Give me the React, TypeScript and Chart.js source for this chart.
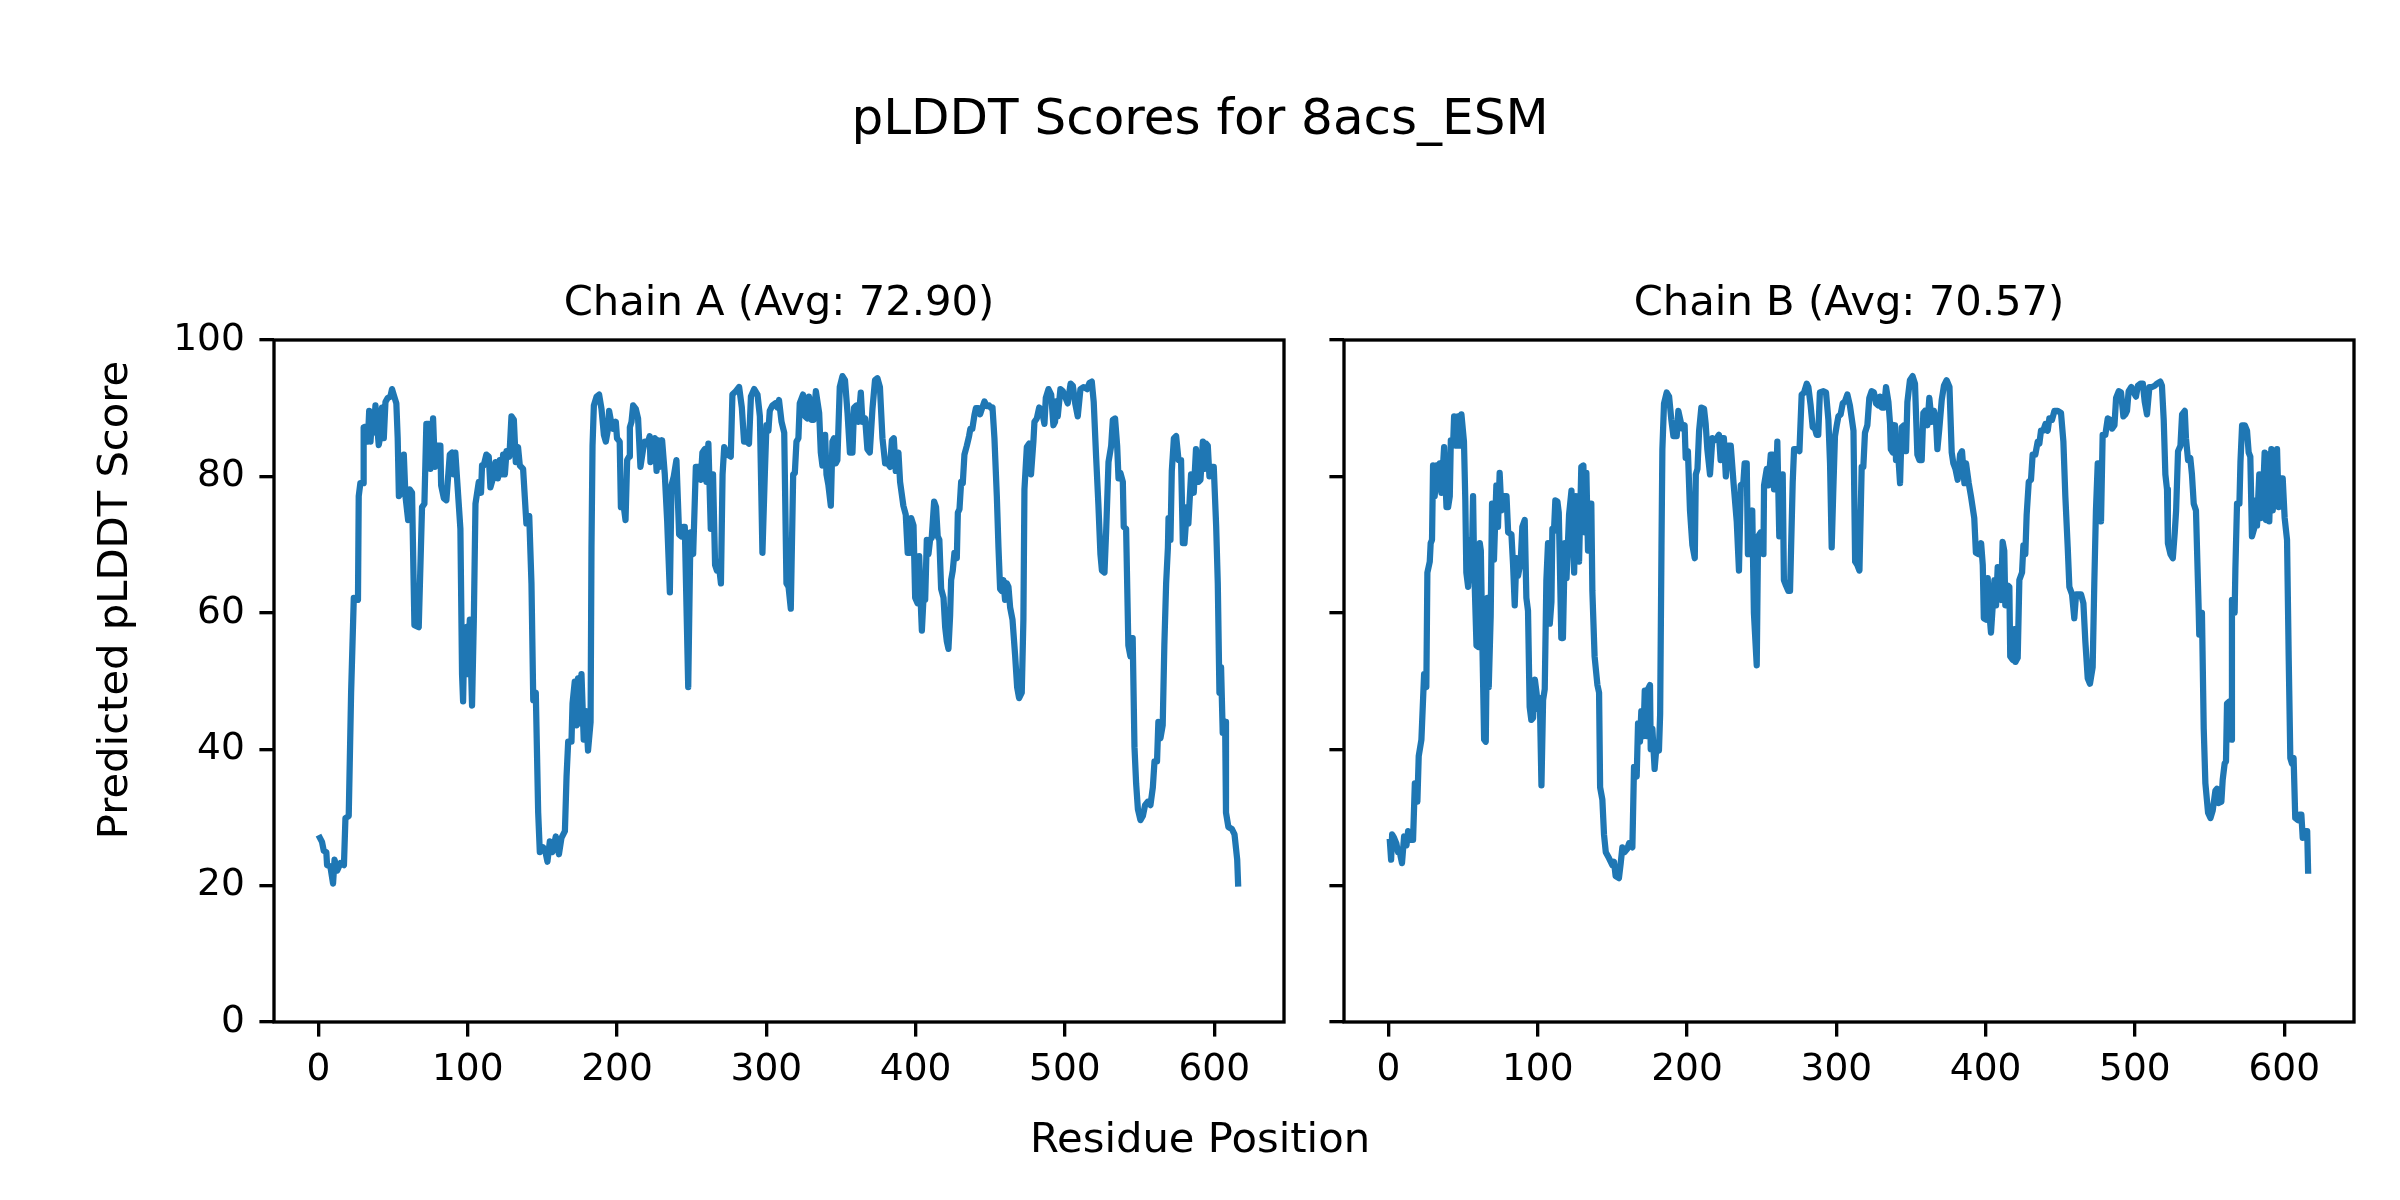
import { useEffect, useRef } from 'react';
import { Chart, registerables } from 'chart.js';

Chart.register(...registerables);

// ---------------- data ----------------
const chainAResidues = [
  1, 2.4, 3.6, 5.3, 5.8, 8, 9.8, 10.8, 12.6, 14.8, 17.1, 18.1, 20.3, 21.9, 23.7, 26.5, 27, 28.1, 29.9, 30.3,
  31.4, 33.1, 34, 34.9, 36, 37.1, 38.2, 40.4, 41.5, 42.6, 43.8, 44.9, 46.4, 48.2, 49.3, 50.4, 52.2, 53.1, 53.9, 55.3,
  57.2, 58.3, 60.1, 61.2, 62.7, 64.3, 67.2, 69.4, 71, 72.3, 73.9, 75, 76.8, 78, 79.5, 81.7, 82.2, 84, 85.7, 88,
  89.5, 90.6, 91.7, 95.1, 96.2, 96.9, 97.8, 99.2, 100.1, 101.4, 102.9, 104.1, 105.2, 107.4, 108.9, 109.6, 110.7, 112.5, 114.1, 115.2,
  116.9,
  118.6, 120.2, 121.5, 123, 123.7, 124.9, 126, 127.9, 129.3, 130.9, 132.2, 133.7, 134.9, 137.1, 139.3, 141.2, 142.7, 143.9, 145.6, 147.2,
  148.3, 150.5, 152.1, 153.4, 155, 156.7, 159, 161.1, 162.8, 165.1, 166.2, 167.3, 169.5, 170.2, 171.7, 172.8, 173.9, 174.6, 176.2, 177.7,
  179.1, 180.6, 182.3, 182.9, 183.6, 184.5, 186.3, 188, 189.6, 191.2, 192.5, 194, 194.7, 196.3, 197.4, 199.2, 200, 201.8, 202.6, 204.1,
  205.7, 206.8, 208.1, 208.6, 209.7, 210.8, 212.6, 214.1, 215.7, 217.5, 218.6, 220.8, 221.9, 222.4, 223.7, 225.4, 226.5, 227.6, 228.7, 230.2,
  232, 233.6, 235.4, 236.5, 238, 239.8, 241.6, 243.1, 244.2, 245.4, 247.7, 249.2, 251, 252.8,
  254.6, 256.1, 257.2, 258.8, 259.9, 261.2, 262.8, 264.3, 265.7, 266.9, 268, 269.6, 270.7, 271.8, 274, 276.2, 277.3, 279.6, 281.8, 283.6,
  285.1, 286.9, 288.4, 289.7, 291.9, 294.1, 295.7, 297.4, 299, 300.1, 301.4, 302.3, 304.1, 305.9, 307.4, 308.5, 310.2, 312, 313.5, 314.9,
  316.4, 318, 319.1, 320.2, 321.5, 322.4, 324.6, 326, 327.5, 328.6, 330.4, 331.6, 333.2, 335.4, 336.5, 337.6, 339.4, 340.3, 341.6, 343.2,
  344.3, 345.4, 346.5, 347.6, 349.2, 351, 352.7, 354.4, 356, 357.7, 358.8, 360.4, 361.7, 363.3, 364.4, 366.2, 367.7, 369.3, 371.1, 372.8,
  374.4, 376.1, 377.8,
  379.6, 381.4, 382.9, 384.1, 385.4, 386.7, 388.5, 389.6, 391.8, 393.4, 394.7, 396.4, 397, 398.6, 399.7, 401.3, 402.4, 403.7, 404.2, 405.3,
  406.4, 407.5, 408.6, 409.7, 410.8, 412.4, 413.7, 414.8, 415.9, 417.1, 418.7, 419.8, 420.9, 422, 423.1, 423.8, 424.9, 426, 427.6, 428.3,
  429.4, 430.5, 431.6, 432.7, 434.3, 435.8, 436.7, 438, 439.5, 440.4, 442.1, 443.2, 444.4, 446.1, 447.7, 449.2, 450.6, 451.5, 452.8, 454.4,
  455.5, 456.6, 457.7, 458.8, 459.9, 461.1, 462.2, 463.3, 464.9, 466.7, 468, 469.3, 471.1, 472.2, 472.9, 474.5, 476, 477.3, 478.9, 479.6,
  481.2, 482.8, 484.6, 486.3, 487.2, 489, 490.8, 492.3, 493.4,
  494.1, 495.2, 497, 498.6, 500.1, 501.9, 503.8, 505.3, 506.9, 508.6, 510.4, 512.7, 514.9, 516.4, 518, 519.3, 520.9, 522.4, 523.8, 524.8,
  526.5, 527.6, 529.2, 531, 532.1, 533.6, 535, 535.9, 537.2, 538.8, 539.4, 541, 542.5, 543.9, 545.4, 546.6, 547.7, 548.9, 550.6, 552.2,
  553.7, 555.5, 557.3, 558.9, 560, 561.7, 562.6, 564, 565.5, 566.6, 567.8, 569, 569.4, 570.7, 571.6, 573, 574.5, 576.1, 577.8, 579,
  580.1, 581.8, 582.7, 584.5, 586.3, 587.8, 589.5, 590.8, 592.4, 593.5, 594.6, 595.7, 596.8, 597.9, 599.7, 601.3, 602.4, 603.5, 604.6, 605.7,
  607.3, 607.9, 609.5, 611.8, 613.6, 615.4, 616,
];
const chainAScores = [
  27.0, 26.4, 25.1, 24.9, 23.0, 22.8, 20.3, 23.8, 22.2, 23.3, 23.0, 29.9, 30.2, 48.3, 62.2, 61.9, 77.1, 79, 79, 87.2,
  87.3, 85.1, 89.6, 85.1, 88.8, 86.4, 90.4, 84.6, 85.9, 90.1, 85.6, 90.9, 91.5, 91.7, 92.8, 92, 90.7, 85.6, 77.1, 77.5,
  83.2, 77.1, 73.6, 78.1, 77.6, 58.2, 57.9, 75.5, 76, 87.7, 87.7, 81.1, 88.5, 81.4, 84.5, 84.5, 78.7, 76.8, 76.5, 83.2,
  83.5, 80.3, 83.5, 72.3, 51, 47, 57.4, 57.9, 51, 59, 46.4, 59, 76, 79.2, 77.6, 81.6, 81.6, 83.2, 82.9, 78.4,
  79.7,
  82.1, 79.7, 82.4, 80.3, 83.2, 80.3, 83.7, 82.9, 88.8, 88.3, 82.1, 84.3, 81.6, 81.1, 73.1, 74.2, 64.3, 47.2, 48.3, 30.7,
  24.9, 25.6, 24.9, 23.5, 26.5, 24.9, 27.2, 24.6, 27, 28, 36, 41.1, 41.1, 46.7, 49.9, 43.5, 50.4, 43.8, 51, 41.4,
  45.6, 39.8, 44, 69.6, 84.5, 90.4, 91.7, 92, 89.9, 86.1, 85.1, 87, 89.6, 87.7, 87, 88, 85.6, 85.1, 75.5, 76.3,
  73.6, 82.4, 82.9, 87.2, 88, 90.4, 89.9, 88.5, 81.4, 84, 85.1, 85.1, 85.9, 82.1, 82.4, 85.6, 80.8, 85.3, 81.4, 85.3,
  80.3, 73.4, 63, 78.7, 80, 82.4, 71.5, 71.2, 72.6, 72.6, 49.1, 71.8, 68.6, 81.4,
  81.4, 79.5, 83.5, 84, 79.2, 84.8, 72.3, 80.3, 67, 66.2, 67.5, 64.3, 80.3, 84.3, 83.2, 82.9, 92, 92.5, 93.1, 90.1,
  85.1, 85.1, 84.8, 91.7, 92.8, 92, 88.8, 68.8, 80.3, 87.5, 86.7, 89.6, 90.4, 90.7, 90.1, 91.2, 88, 86.4, 64.3, 63.8,
  60.6, 80.3, 80.5, 85.1, 85.6, 90.7, 92, 88.8, 88.5, 91.7, 88.3, 88.3, 92.5, 89.3, 83.5, 81.6, 86.1, 80.3, 78.7, 75.7,
  85.1, 85.6, 81.9, 82.4, 93.1, 94.7, 94.1, 89.3, 83.5, 83.5, 90.1, 90.4, 88, 92.3, 88, 88.5, 84, 83.5, 89.9, 94.1,
  94.4, 93.1, 85.6,
  81.9, 81.9, 81.4, 85.3, 85.6, 80.8, 83.5, 79.2, 75.7, 74.4, 68.8, 68.8, 73.9, 72.8, 62.2, 61.4, 68.3, 60, 57.4, 62.2,
  61.9, 70.7, 68.6, 70.7, 71, 76.3, 75.5, 71.2, 70.7, 63.5, 62.2, 57.9, 55.8, 54.7, 59.5, 64.8, 66.2, 68.8, 68, 74.7,
  75.2, 79.2, 79, 83.2, 84.5, 85.9, 87, 87, 89.1, 90, 90, 89.1, 89.9, 91, 90.3, 90.4, 90, 90.1, 85.6, 77.1,
  69.6, 63.5, 63.2, 64.8, 61.9, 64.3, 63.8, 60.8, 59, 53.6, 49.1, 47.5, 48.3, 59, 78.1, 84.3, 84.8, 80.3, 85.1, 88,
  88.5, 90.1, 89.6, 87.7, 91.5, 92.8, 92, 87.5, 88,
  91, 88.8, 92.8, 92.5, 91.7, 90.7, 93.6, 93.3, 90.7, 88.8, 92.8, 93.1, 92.8, 93.7, 93.9, 90.9, 82.9, 76, 68.6, 66.2,
  65.9, 71.8, 82.1, 84.5, 88.3, 88.5, 84.5, 79.7, 80.5, 79.2, 72.6, 72.3, 55.2, 53.6, 56.3, 40.3, 35, 31.2, 29.6, 30.2,
  31.8, 32.3, 31.8, 34.4, 38.2, 38.2, 44, 41.6, 43.5, 55.2, 64.3, 69.6, 73.9, 70.7, 80.8, 85.6, 85.9, 82.4, 82.4, 70.2,
  70.2, 75.5, 73.1, 80.3, 77.6, 84, 79.2, 79.5, 85.1, 81.1, 84.8, 84.5, 80, 81.4, 81.4, 72.8, 64.3, 48.3, 52, 42.4,
  44, 30.7, 28.6, 28.3, 27.5, 23.8, 20.3,
];

const chainBResidues = [
  1, 1.8, 2.5, 3.8, 5.3, 6.4, 7.6, 9.1, 10.5, 12.1, 13.2, 15, 16.5, 17.7, 19.4, 20.3, 22.1, 23.9, 25.4, 26.1,
  27.7, 28.3, 29.2, 29.9, 31, 32.2, 33.3, 34.4, 35.5, 37.3, 38.9, 40, 41.1, 41.8, 43.3, 44, 45.5, 46.6, 47.8, 48.9,
  50.6, 51.5, 52.2, 53.4, 54.5, 55.6, 56.7, 57.4, 59, 60.1, 61.2, 61.9, 63, 64.1, 65.2, 66.3, 67.2, 68.5, 69.4, 70.7,
  72.3, 73.4, 74.5, 75.7, 76.8, 79.1, 80.2, 82.4, 83.5, 84.6, 85.7, 86.8, 88.6, 89.7, 91.3, 92.4, 93.5, 94.6, 95.7, 96.9,
  98.1, 99.2, 100.3, 101.4, 102.5, 103.6, 104.7, 105.8, 106.9, 108.1, 109.2, 109.8, 110.9, 111.8, 113.2, 114.1, 114.7, 115.8, 116.9, 118.2,
  119.3,
  121, 122.6, 124.4, 125.5, 126.6, 127.7, 129.2, 130.6, 131.5, 132.6, 133.7, 134.8, 135.9, 136.6, 138.1, 140, 141.1, 141.8, 143.3, 144.4,
  145.6, 147.8, 150, 151.1, 152.2, 154.4, 155.6, 156.7, 158.2, 160, 161.2, 163.4, 164.5, 166.3, 167.2, 168.5, 169.4, 170.8, 171.7, 173,
  173.9, 175.2, 175.7, 176.8, 178.3, 179.7, 181.2, 182, 182.9, 183.5, 184.6, 186.4, 188, 189.5, 190.9, 193.1, 194.2, 195.8, 196.9, 198.4,
  199.1, 200.6, 202, 203.6, 205.2, 205.9, 207, 208.1, 209.6, 211.4, 212.5, 213.6, 215.4, 217, 218.5, 219.9, 221.4, 222.5, 223.6, 224.7,
  226, 227.5, 229.3, 231.1, 233.3, 234.8, 236, 237.7, 238.6, 240, 240.8, 242.6, 243.7, 244.8, 246.7, 247.6, 249.4, 251.2, 251.6, 253.4,
  254.5, 256.1, 257.4, 258.3, 259.6, 260.5, 261.8, 262.7, 264.1, 264.9, 266.3, 267.9, 269, 270.8, 271.7, 273.5, 275.3, 276.8, 278.4, 280.2,
  281.3, 282.8, 284.2, 285.7, 286.8, 287.9, 289, 291.4, 293.1, 294.7, 295.8, 296.9, 298, 299.1, 300.3, 301.4, 302.9, 304.3, 305.8, 307.4,
  309.1, 311.5, 312.6, 314.1, 315.5, 317, 318.1, 319.2, 320.8, 322.1, 323.7, 325.2, 326.6, 328.1, 329.2, 330.4, 332, 333.3, 334.9, 336,
  336.5, 337.8, 339.3, 340, 341.6, 342.7, 343.8, 345.3, 346.7, 347.6, 349.3, 351.1, 352.7, 354.3, 355.7, 357.2, 358.3, 359.4, 361, 362.3,
  363.9, 365.4, 366.8, 367.7, 369, 370.6, 372.1, 373.9, 375.8, 377.3,
  378.4, 379.8, 381.3, 382.9, 384.2, 385.8, 386.9, 388.7, 390.2, 392.4, 393.5, 395.3, 397, 398.1, 398.8, 400.3, 401.4, 402.5, 403.6, 404.8,
  405.9, 407, 408.1, 409.2, 410.3, 411.4, 412.5, 413.2, 414.8, 415.9, 416.5, 418.2, 419.3, 420, 421.5, 422.6, 424.4, 425.3, 426.6, 427.5,
  428.9, 430.4, 431.5, 433.3, 434.9, 436, 437.1, 438.6, 440.1, 441.6, 442.7, 444.5, 446.1, 448.3, 450.5, 452.1, 453.4, 455, 456.1, 457.9,
  459.4, 460.6, 462.4, 463.9, 465.5, 466.8, 468.4, 469.9, 471.7, 472.8, 473.9, 475.1, 476.6, 477.3, 478.4, 480.2, 481.8, 483.4, 484.7, 486.3,
  487.4, 489.2, 490.7, 492.3, 493.6,
  494.7, 495.8, 497.6, 499.2, 500.7, 502, 503.7, 505.3, 506.6, 508.1, 509.7, 511.5, 513.3, 514.8, 517, 518.1, 519.3, 520.4, 521.5, 522.1,
  523.8, 525.4, 526.7, 527.6, 528.9, 530.5, 531.6, 533.4, 534.2, 535.6, 537.1, 538.2, 539.4, 540.9, 542.7, 543.1, 544.9, 546.1, 547.2, 549,
  550.6, 552.1, 553.9, 555, 556.1, 557.9, 558.8, 560.1, 561, 561.7, 563.2, 564.6, 565, 566.8, 567.3, 568.4, 570, 570.7, 571.8, 573.6,
  575.1, 576.2, 577.3, 578.4, 580.2, 580.7, 581.8, 583.3, 584.7, 585.6, 586.9, 587.8, 589.1, 590, 591.4, 592.3, 593.7, 595.2, 596.3, 597.4,
  599, 600.3, 601.9, 603, 604.1, 605.2, 606.3, 607.4, 609.3, 610.2, 611.5, 612.4, 614.2, 615.4, 616,
];
const chainBScores = [
  26.4, 23.8, 27.5, 27, 26.2, 24.9, 24.9, 23.3, 27.2, 25.9, 28, 26.7, 26.7, 35, 32.3, 39, 41.4, 51, 49.1, 65.9,
  67.5, 70.2, 70.7, 81.6, 77.1, 81.6, 78.1, 81.9, 77.6, 84.3, 75.5, 75.5, 77.1, 85.3, 84.5, 88.8, 84.5, 88.8, 84.5, 89.1,
  85.1, 76.5, 65.9, 63.8, 70.7, 64.8, 77.1, 67, 55.2, 55, 70.2, 69.1, 54.7, 41.4, 41.1, 62.2, 49.1, 59.5, 76, 67.8,
  78.7, 72.6, 80.5, 75, 77.1, 77.1, 71.8, 71.5, 67, 61.1, 68, 65.4, 67.5, 72.6, 73.6, 62.2, 60.3, 46.2, 44.3, 44.6,
  50.2, 48.3, 45.9, 47.5, 34.7, 47.2, 48.8, 64.8, 70.2, 58.4, 61.6, 72.3, 72, 76.5, 76.3, 74.7, 68.6, 56.3, 56.3, 70.2,
  65.1,
  74.4, 77.9, 65.9, 77.1, 71.5, 67.5, 81.4, 81.6, 71.8, 80.5, 69.1, 76, 76, 63.2, 53.6, 49.4, 48.3, 34.4, 32.6, 27.5,
  24.9, 24, 23, 23.5, 21.4, 21.1, 23.3, 25.6, 24.9, 25.4, 26.2, 25.6, 37.4, 36, 43.8, 41.1, 45.6, 41.9, 48.6, 41.9,
  48.8, 49.4, 40, 43, 37.1, 40.8, 39.8, 45.1, 69.6, 84, 90.7, 92.3, 91.7, 88.3, 85.9, 85.9, 89.6, 88, 87, 87.5,
  82.7, 83.7, 75, 69.9, 68, 80.3, 81.1, 86.7, 90.1, 89.9, 87.7, 84, 80.3, 85.6, 85.3, 85.6, 86.1, 82.4, 85.6, 85.6,
  80, 84.5, 84.5, 79.2, 73.4, 66.2, 78.7, 79, 81.9, 81.9, 68.6, 68.6, 75, 60, 52.3, 71.2, 71.8, 68.6, 78.7, 81.1,
  78.7, 83.2, 83.2, 78.1, 78.1, 85.1, 71.2, 71.8, 80.3, 64.8, 64, 63.2, 63.2, 79.2, 84, 84, 83.7, 92, 92.3, 93.6,
  93.1, 90.4, 87.2, 87, 86.1, 86.1, 92.3, 92.5, 92.3, 88.3, 81.9, 69.6, 78.1, 85.9, 87.5, 88.8, 89.1, 90.7, 91, 92,
  90.4, 86.7, 67.5, 67, 66.2, 81.4, 81.4, 86.4, 87.5, 91.5, 92.5, 92.3, 90.7, 90.4, 91.7, 90.1, 90.1, 93.1, 90.9, 87.7,
  84, 83.5, 87.5, 82.4, 82.7, 79, 87.2, 87.5, 83.7, 90.9, 94.1, 94.7, 93.6, 83.2, 82.4, 82.4, 89.3, 89.6, 87.5, 91.5,
  88, 89.6, 88, 84, 87, 91.2, 93.3, 94.1, 93.1, 83.5,
  81.9, 81.1, 79.5, 83.2, 83.7, 79, 81.9, 79, 77.1, 73.9, 68.8, 68.6, 70.2, 67, 59.2, 59, 65.1, 60, 57.1, 61.1,
  64.8, 61.1, 66.7, 62.2, 61.9, 70.4, 69.1, 61.1, 64, 63.8, 53.6, 53.1, 57.6, 52.8, 53.4, 64.8, 65.9, 69.9, 68.6, 74.4,
  79.2, 79.5, 83.2, 83.2, 85.1, 84.8, 86.7, 86.7, 87.7, 86.7, 88.5, 88.3, 89.6, 89.6, 89.3, 85.1, 77.1, 69.6, 63.8, 62.7,
  59.2, 62.7, 62.7, 62.7, 61.4, 55.8, 50.4, 49.6, 52, 64.3, 75, 81.9, 81.9, 73.4, 86.1, 86.1, 88.5, 88.3, 87, 87.5,
  91.5, 92.5, 92.3, 88.8, 89.1,
  89.6, 92.5, 93.1, 92.3, 91.7, 93.3, 93.6, 93.6, 90.9, 89.1, 93.1, 93.1, 93.3, 93.6, 93.9, 93.3, 88.3, 80.3, 78.1, 70.2,
  68.6, 68, 71.8, 75, 83.7, 84.5, 89.1, 89.6, 85.6, 82.4, 82.7, 80.3, 76, 75, 60.6, 56.8, 60, 43, 35, 30.7,
  29.9, 31, 33.9, 34.2, 32.1, 32.3, 35.5, 37.9, 38.2, 46.7, 47, 41.4, 61.9, 60, 66.4, 76, 76, 82.1, 87.5, 87.5,
  86.7, 83.5, 82.9, 71.2, 72.6, 76.5, 72.8, 80.3, 73.9, 76, 83.5, 73.6, 83.2, 73.4, 84, 75, 78.1, 84, 75.5, 79.7,
  79.7, 73.9, 70.7, 53.6, 38.7, 37.9, 38.7, 29.9, 29.6, 30.4, 30.4, 27, 28, 28, 22.2,
];

const figureTitle = 'pLDDT Scores for 8acs_ESM';
const chainATitle = 'Chain A (Avg: 72.90)';
const chainBTitle = 'Chain B (Avg: 70.57)';
const xAxisLabel = 'Residue Position';
const yAxisLabel = 'Predicted pLDDT Score';

// ---------------- styling ----------------
const FONT = '"DejaVu Sans", sans-serif';
const TICK_FS = 37.5;
const LABEL_FS = 41.7;
const SUPTITLE_FS = 50;
const SPINE_W = 3.33;
const TICK_LEN = 14.6;
const TICK_PAD = 14.6;
const LINE_COLOR = '#1f77b4';
const LINE_W = 6.25;

const FIG_W = 2400;
const FIG_H = 1200;
const AX_TOP = 340;
const AX_BOTTOM = 1022;
const AX_A_LEFT = 274;
const AX_A_RIGHT = 1284;
const AX_B_LEFT = 1344;
const AX_B_RIGHT = 2354;
const X_AXIS_H = 120;

const decorPlugin = {
  id: 'decor',
  afterDatasetsDraw(chart: any, _args: any, opts: any) {
    const { ctx, chartArea: a } = chart;
    ctx.save();
    ctx.lineWidth = SPINE_W;
    ctx.strokeStyle = '#000';
    ctx.lineJoin = 'miter';
    ctx.strokeRect(a.left, a.top, a.right - a.left, a.bottom - a.top);

    ctx.fillStyle = '#000';
    ctx.textAlign = 'center';
    ctx.textBaseline = 'alphabetic';
    ctx.font = `${LABEL_FS}px ${FONT}`;
    ctx.fillText(opts.title, (a.left + a.right) / 2, a.top - 25);

    if (opts.yLabel) {
      ctx.save();
      ctx.translate(opts.yLabelX, opts.yLabelY);
      ctx.rotate(-Math.PI / 2);
      ctx.fillText(opts.yLabel, 0, 0);
      ctx.restore();
    }
    if (opts.xLabel) {
      ctx.font = `${LABEL_FS}px ${FONT}`;
      ctx.fillText(opts.xLabel, FIG_W / 2, opts.xLabelY);
    }
    if (opts.figTitle) {
      ctx.font = `${SUPTITLE_FS}px ${FONT}`;
      ctx.fillText(opts.figTitle, FIG_W / 2, opts.figTitleY);
    }
    ctx.restore();
  },
};

function buildConfig(residues: number[], scores: number[], left: boolean): any {
  const yWidth = left ? AX_A_LEFT : 40;
  const padLeft = left ? 0 : AX_B_LEFT - yWidth;
  const padRight = left ? FIG_W - AX_A_RIGHT : FIG_W - AX_B_RIGHT;
  return {
    type: 'line',
    data: {
      datasets: [
        {
          data: residues.map((r, i) => ({ x: r, y: scores[i] })),
          borderColor: LINE_COLOR,
          backgroundColor: LINE_COLOR,
          borderWidth: LINE_W,
          pointRadius: 0,
          tension: 0,
          fill: false,
          borderJoinStyle: 'round',
          borderCapStyle: 'square',
        },
      ],
    },
    options: {
      responsive: false,
      maintainAspectRatio: false,
      animation: false,
      devicePixelRatio: 1,
      events: [],
      layout: {
        padding: { left: padLeft, right: padRight, top: AX_TOP, bottom: FIG_H - AX_BOTTOM - X_AXIS_H },
      },
      plugins: {
        legend: { display: false },
        tooltip: { enabled: false },
        title: { display: false },
        decor: left
          ? {
              title: chainATitle,
              yLabel: yAxisLabel,
              yLabelX: 127,
              yLabelY: FIG_H / 2,
              xLabel: xAxisLabel,
              xLabelY: 1152,
              figTitle: figureTitle,
              figTitleY: 134,
            }
          : { title: chainBTitle },
      },
      scales: {
        x: {
          type: 'linear',
          min: -29.75,
          max: 646.75,
          afterFit: (s: any) => {
            s.height = X_AXIS_H;
          },
          border: { display: false },
          grid: {
            drawOnChartArea: false,
            drawTicks: true,
            tickLength: TICK_LEN,
            lineWidth: SPINE_W,
            color: '#000',
          },
          ticks: {
            stepSize: 100,
            includeBounds: false,
            autoSkip: false,
            maxRotation: 0,
            padding: TICK_PAD,
            color: '#000',
            font: { family: FONT, size: TICK_FS, lineHeight: 1 },
          },
        },
        y: {
          type: 'linear',
          min: 0,
          max: 100,
          afterFit: (s: any) => {
            s.width = yWidth;
          },
          border: { display: false },
          grid: {
            drawOnChartArea: false,
            drawTicks: true,
            tickLength: TICK_LEN,
            lineWidth: SPINE_W,
            color: '#000',
          },
          ticks: {
            display: left,
            stepSize: 20,
            padding: TICK_PAD,
            color: '#000',
            font: { family: FONT, size: TICK_FS, lineHeight: 1 },
          },
        },
      },
    },
    plugins: [decorPlugin],
  };
}

export default function App() {
  const refA = useRef<HTMLCanvasElement>(null);
  const refB = useRef<HTMLCanvasElement>(null);

  useEffect(() => {
    if (!refA.current || !refB.current) return;
    const chartA = new Chart(refA.current, buildConfig(chainAResidues, chainAScores, true));
    const chartB = new Chart(refB.current, buildConfig(chainBResidues, chainBScores, false));
    return () => {
      chartA.destroy();
      chartB.destroy();
    };
  }, []);

  const canvasStyle: any = { position: 'absolute', left: 0, top: 0, width: FIG_W, height: FIG_H };
  return (
    <div style={{ position: 'absolute', left: 0, top: 0, width: FIG_W, height: FIG_H, background: '#fff' }}>
      <canvas ref={refA} width={FIG_W} height={FIG_H} style={canvasStyle} />
      <canvas ref={refB} width={FIG_W} height={FIG_H} style={canvasStyle} />
    </div>
  );
}
